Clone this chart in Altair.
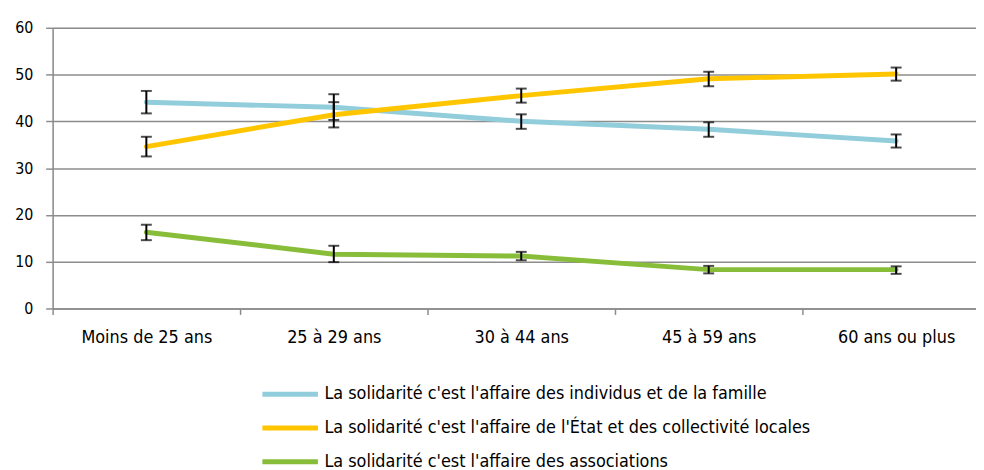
import altair as alt
import pandas as pd

categories = ["Moins de 25 ans", "25 à 29 ans", "30 à 44 ans", "45 à 59 ans", "60 ans ou plus"]
series_names = [
    "La solidarité c'est l'affaire des individus et de la famille",
    "La solidarité c'est l'affaire de l'État et des collectivité locales",
    "La solidarité c'est l'affaire des associations",
]
colors = ["#92CDDC", "#FFC600", "#88BD3A"]

individus = [44.1, 43.0, 40.0, 38.3, 35.8]
individus_low = [41.7, 40.3, 38.4, 36.7, 34.4]
individus_high = [46.5, 45.8, 41.5, 39.8, 37.2]

etat = [34.6, 41.4, 45.5, 49.1, 50.1]
etat_low = [32.5, 38.7, 44.0, 47.5, 48.7]
etat_high = [36.7, 44.1, 47.0, 50.6, 51.5]

assoc = [16.3, 11.6, 11.2, 8.3, 8.3]
assoc_low = [14.6, 9.9, 10.3, 7.5, 7.4]
assoc_high = [17.9, 13.4, 12.1, 9.1, 9.0]

y_ticks = [0, 10, 20, 30, 40, 50, 60]

rows = []
for s, (vals, lo, hi) in enumerate([(individus, individus_low, individus_high),
                                     (etat, etat_low, etat_high),
                                     (assoc, assoc_low, assoc_high)]):
    for i, c in enumerate(categories):
        rows.append({"serie": series_names[s], "order": s, "idx": i, "cat": c,
                     "value": vals[i], "low": lo[i], "high": hi[i]})
df = pd.DataFrame(rows)

FONT = "Liberation Sans Narrow, Arial Narrow, DejaVu Sans Condensed, sans-serif"
GRID = "#8C8C8C"

label_expr = "[" + ",".join("'" + c.replace("'", "\\'") + "'" for c in categories) + "]"
label_expr = "datum.value % 1 === 0 ? " + label_expr + "[datum.value] : ''"

x_enc = alt.X(
    "idx:Q",
    scale=alt.Scale(domain=[-0.5, 4.426], nice=False, zero=False),
    axis=alt.Axis(
        title=None,
        values=[-0.5, 0, 0.5, 1, 1.5, 2, 2.5, 3, 3.5, 4],
        labelExpr=label_expr,
        grid=False,
        domainColor=GRID,
        domainWidth=1.5,
        tickColor=GRID,
        tickWidth=1.5,
        tickSize=6,
        tickOpacity={"condition": {"test": "datum.value % 1 === 0", "value": 0}, "value": 1},
        labelPadding=14,
        labelFont=FONT,
        labelFontSize=18,
        labelColor="#000000",
        labelOverlap=False,
        labelFlush=False,
    ),
)
y_enc = alt.Y(
    "value:Q",
    scale=alt.Scale(domain=[0, 60], nice=False),
    axis=alt.Axis(
        title=None,
        values=y_ticks,
        grid=True,
        gridColor=GRID,
        gridWidth=1.5,
        domainColor=GRID,
        domainWidth=1.5,
        tickColor=GRID,
        tickWidth=1.5,
        tickSize=7,
        labelPadding=13,
        labelFont=FONT,
        labelFontSize=16,
        labelColor="#000000",
    ),
)

base = alt.Chart(df)

lines = base.mark_line(strokeWidth=5, strokeCap="round").encode(
    x=x_enc,
    y=y_enc,
    color=alt.Color(
        "serie:N",
        scale=alt.Scale(domain=series_names, range=colors),
        sort=series_names,
        legend=alt.Legend(
            title=None,
            orient="none",
            legendX=230,
            legendY=360,
            direction="vertical",
            symbolType="M-4,0H4",
            symbolSize=196,
            symbolStrokeWidth=5,
            labelOffset=25,
            labelFont=FONT,
            labelFontSize=18,
            labelColor="#000000",
            labelLimit=800,
            rowPadding=13,
            padding=0,
        ),
    ),
    detail="order:O",
    order="order:O",
)

bars = base.mark_rule(color="#000000", strokeWidth=2).encode(
    x="idx:Q", y="low:Q", y2="high:Q"
)
caps_low = base.mark_tick(color="#000000", thickness=2, size=11, orient="horizontal").encode(
    x="idx:Q", y="low:Q"
)
caps_high = base.mark_tick(color="#000000", thickness=2, size=11, orient="horizontal").encode(
    x="idx:Q", y="high:Q"
)

chart = alt.layer(lines, bars, caps_low, caps_high).properties(
    width=931,
    height=283,
    autosize=alt.AutoSizeParams(type="none"),
    padding={"left": 45, "top": 18, "right": 0, "bottom": 170},
).configure_view(stroke=None).configure(background="#FFFFFF")

chart.save("out.html", embed_options={"renderer": "svg", "actions": False})
